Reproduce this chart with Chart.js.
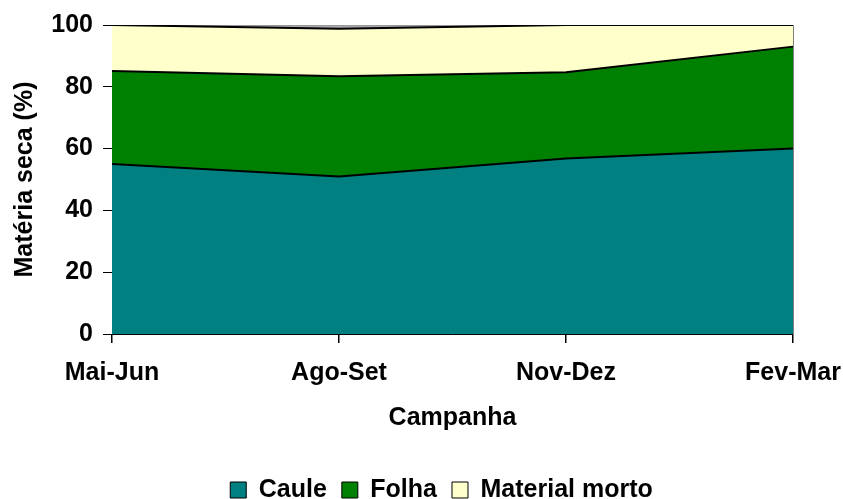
<!DOCTYPE html>
<html><head><meta charset="utf-8">
<script src="https://cdn.jsdelivr.net/npm/chart.js@4"></script>
<style>html,body{margin:0;padding:0;background:#fff}#c{display:block}</style>
</head><body>
<canvas id="c" width="843" height="499"></canvas>
<script>
const categories = ['Mai-Jun', 'Ago-Set', 'Nov-Dez', 'Fev-Mar'];
const caule = [55.0, 51.0, 56.8, 60.0];
const folha = [30.1, 32.4, 27.9, 33.0];
const materialMorto = [14.9, 15.4, 15.3, 7.0];
const resto = [0, 1.2, 0, 0];
const yTicks = [0, 20, 40, 60, 80, 100];

const F = 'Liberation Sans, Arial, sans-serif';
const font = {family: F, size: 25, weight: 'bold'};
const xTickFont = {family: F, size: 25, weight: 'bold', lineHeight: '56px'};

const legendShift = {
  id: 'legendShift',
  afterLayout(chart) {
    const l = chart.legend;
    if (l) { l.left += 40; l.right += 40; }
  }
};

new Chart(document.getElementById('c'), {
  type: 'line',
  data: {
    labels: categories,
    datasets: [
      {label: 'Caule', data: caule, backgroundColor: '#008080', borderColor: '#000', borderWidth: 2, fill: 'origin', pointRadius: 0, tension: 0},
      {label: 'Folha', data: folha, backgroundColor: '#008000', borderColor: '#000', borderWidth: 2, fill: '-1', pointRadius: 0, tension: 0},
      {label: 'Material morto', data: materialMorto, backgroundColor: '#FFFFCC', borderColor: '#000', borderWidth: 2, fill: '-1', pointRadius: 0, tension: 0},
      {label: 'resto', data: resto, backgroundColor: '#A8A8A8', borderColor: '#888', borderWidth: 1, fill: '-1', pointRadius: 0, tension: 0}
    ]
  },
  plugins: [legendShift],
  options: {
    responsive: false,
    animation: false,
    layout: {autoPadding: false, padding: {left: 10, right: 50, top: 24, bottom: -13.5}},
    plugins: {
      legend: {
        position: 'bottom',
        labels: {
          font: font, color: '#000', boxWidth: 16, boxHeight: 16, padding: 15,
          filter: (item) => item.text !== 'resto',
          generateLabels: (chart) => chart.data.datasets.map((ds, i) => ({
            text: ds.label, fillStyle: ds.backgroundColor, strokeStyle: '#000', lineWidth: 1, fontColor: '#000', datasetIndex: i, hidden: false
          }))
        }
      },
      tooltip: {enabled: false}
    },
    scales: {
      x: {
        offset: false,
        grid: {
          display: true, drawOnChartArea: true, tickLength: 9, tickColor: '#000', lineWidth: 1.5,
          color: (ctx) => (ctx.index === categories.length - 1 ? '#000' : 'rgba(0,0,0,0)')
        },
        border: {color: '#000', width: 1},
        ticks: {font: xTickFont, color: '#000', padding: 2, maxRotation: 0, autoSkip: false},
        title: {display: true, text: 'Campanha', font: font, color: '#000', padding: {top: 0, bottom: 29.5}},
        afterFit: (s) => { s.height = 128.5; }
      },
      y: {
        stacked: true,
        min: 0, max: 100,
        afterBuildTicks: (s) => { s.ticks = yTicks.map(v => ({value: v})); },
        grid: {display: true, drawOnChartArea: false, color: '#000', tickLength: 9},
        border: {color: '#000', width: 1},
        ticks: {font: font, color: '#000', padding: 10},
        title: {display: true, text: 'Matéria seca (%)', font: font, color: '#000', padding: {top: 0, bottom: 0}},
        afterFit: (s) => { s.width = 102; }
      }
    }
  }
});
</script>
</body></html>
